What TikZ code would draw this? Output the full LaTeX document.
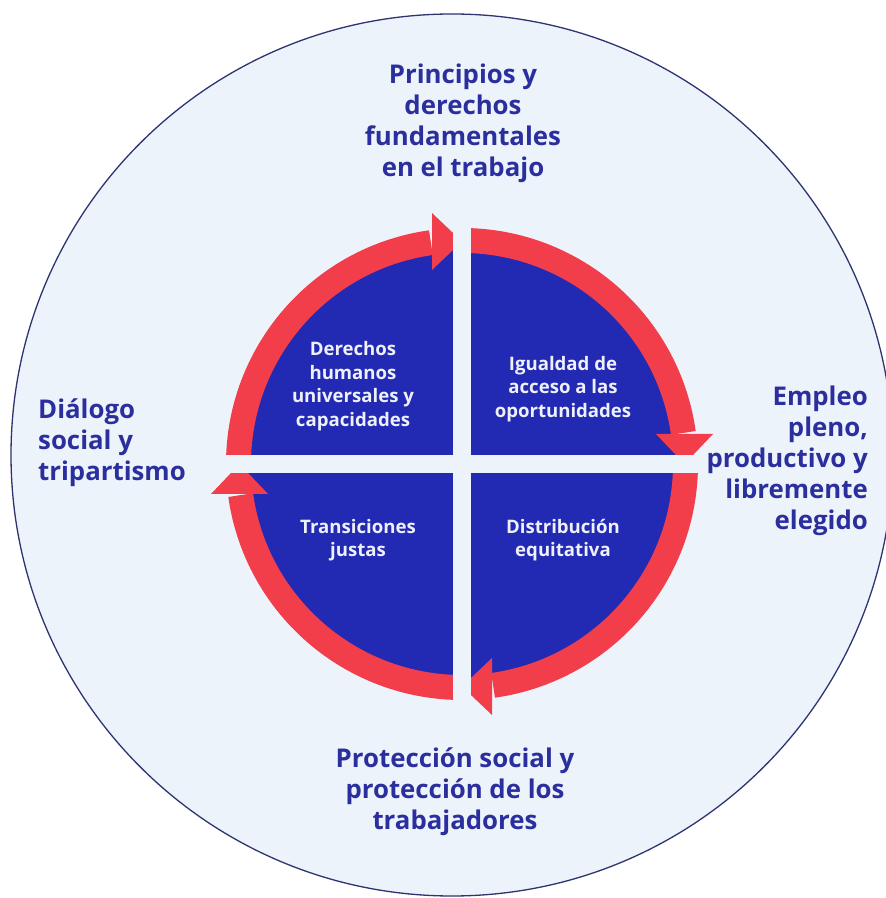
\documentclass[tikz,border=0pt]{standalone}
\usepackage{fontspec}
\setmainfont{Open Sans}
\definecolor{bgblue}{HTML}{EDF3FB}
\definecolor{rimblue}{HTML}{2E3470}
\definecolor{quadblue}{HTML}{2229B3}
\definecolor{ringred}{HTML}{F23D4B}
\definecolor{labelblue}{HTML}{2B2F9E}
\definecolor{innertext}{HTML}{EEF0FA}
\begin{document}
\begin{tikzpicture}[x=1pt,y=1pt,
  outerlabel/.style={font=\fontsize{25.8}{31}\selectfont\bfseries, text=labelblue, inner sep=0pt},
  innerlabel/.style={font=\fontsize{18.6}{23.5}\selectfont\bfseries, text=innertext, align=center, inner sep=0pt},
  ringarc/.style={draw=ringred, line width=25pt},
  gapbar/.style={fill=bgblue}]
\useasboundingbox (0,0) rectangle (886,898);
\fill[white] (0,0) rectangle (886,898);
% outer disc
\filldraw[fill=bgblue, draw=rimblue, line width=1.3pt] (452,443) circle[radius=441];
% inner wheel: blue disc, red arrowed ring, cut into quarters
\begin{scope}[shift={(462,434)}]
  \fill[quadblue] (0,0) circle[radius=215];
  \foreach \r in {0,-90,-180,-270} {
    \begin{scope}[rotate=\r]
      \draw[ringarc] (180:223.5) arc[start angle=180, end angle=98, radius=223.5];
      \fill[ringred] (-30,194) -- (0,222.5) -- (-30,251) -- cycle;
    \end{scope}
  }
  \fill[gapbar] (-9,-262) rectangle (9,262);
  \fill[gapbar] (-262,-9) rectangle (262,9);
\end{scope}
% quadrant texts
\node[innerlabel] (tl) at (353,512) {Derechos\\humanos\\universales y\\capacidades};
\node[innerlabel] (tr) at (563,509) {Igualdad de\\acceso a las\\oportunidades};
\node[innerlabel] (bl) at (358,358) {Transiciones\\justas};
\node[innerlabel] (br) at (563,358) {Distribución\\equitativa};
% surrounding texts
\node[outerlabel, align=center] (top) at (463,775) {Principios y\\derechos\\fundamentales\\en el trabajo};
\node[outerlabel, align=left, anchor=west] (left) at (38,455) {Diálogo\\social y\\tripartismo};
\node[outerlabel, align=right, anchor=east] (right) at (868,437.5) {Empleo\\pleno,\\productivo y\\libremente\\elegido};
\node[outerlabel, align=center] (bottom) at (455,106.5) {Protección social y\\protección de los\\trabajadores};
\end{tikzpicture}
\end{document}
